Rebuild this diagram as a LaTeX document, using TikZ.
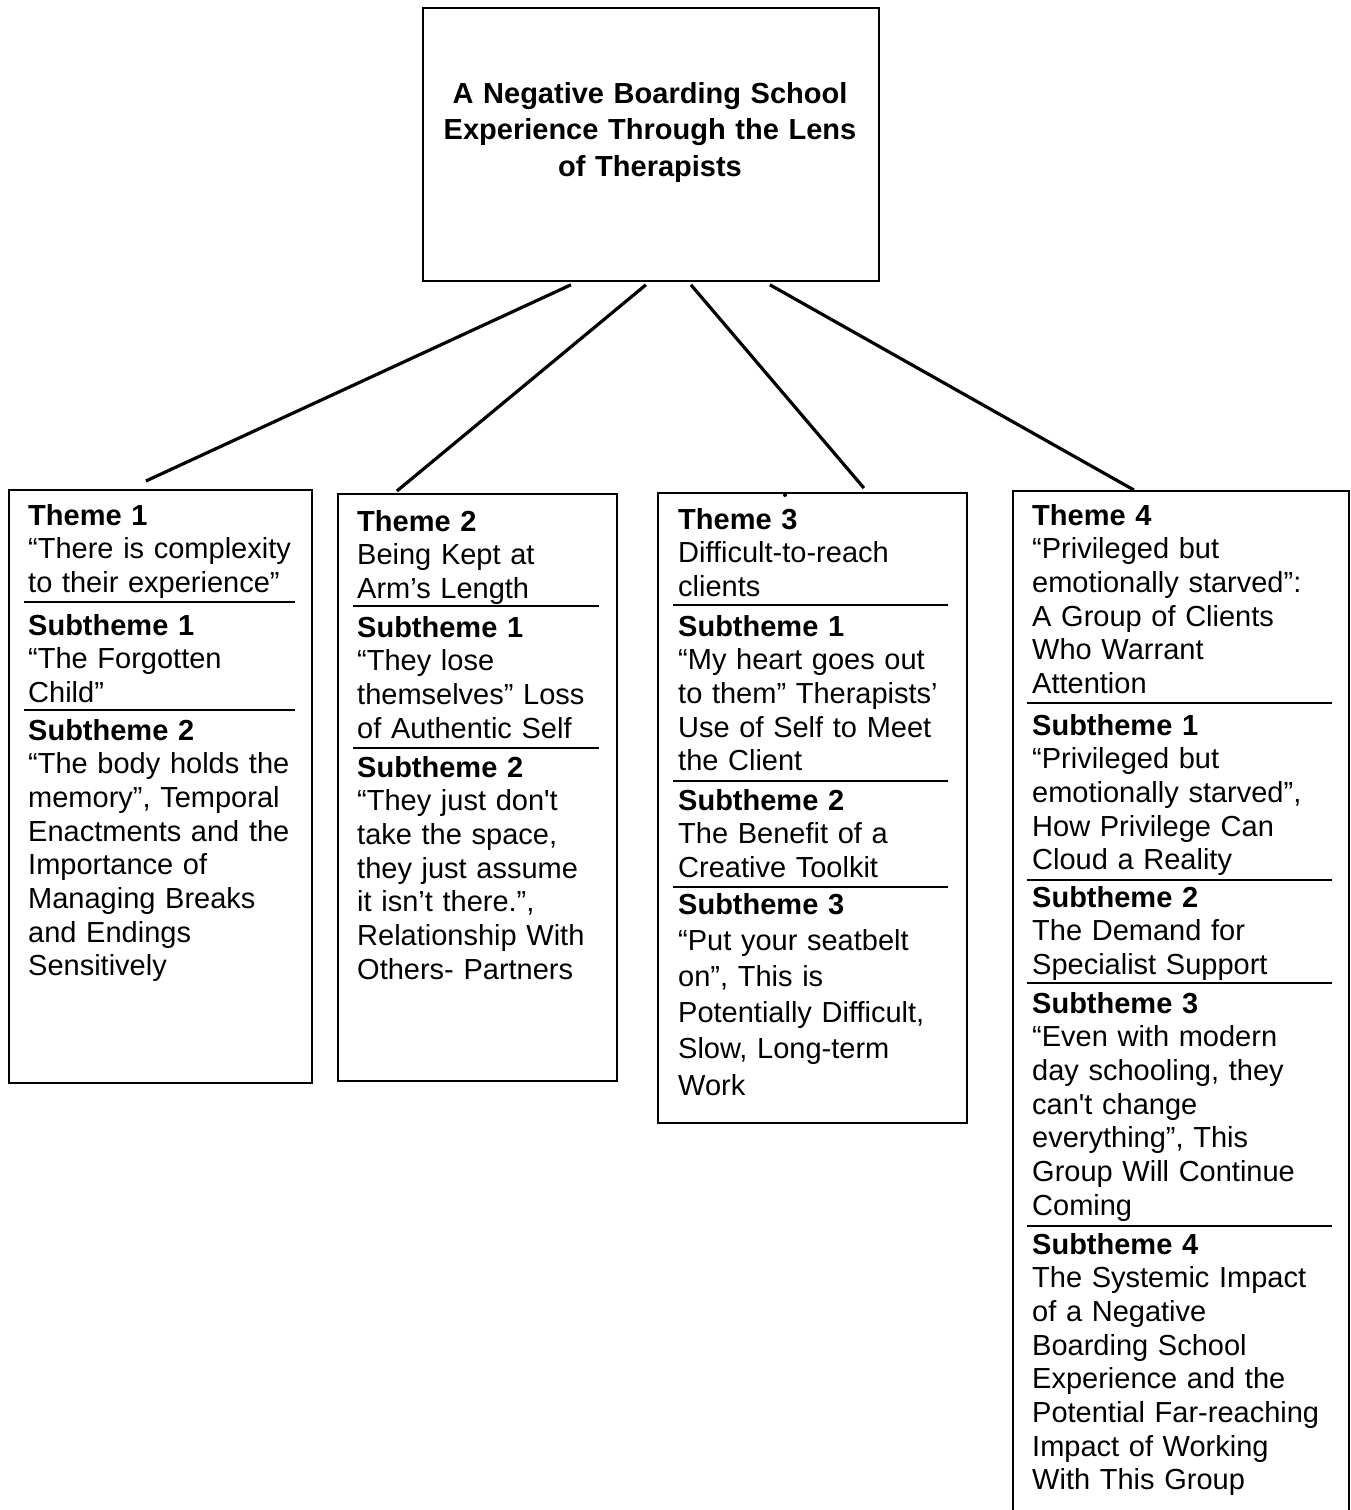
\documentclass[tikz,border=0pt]{standalone}
\usepackage{fontspec}
\newfontfamily\arialfont{Liberation Sans}
\usepackage{tikz}
\usetikzlibrary{calc}
\tikzset{box/.style={draw,line width=1.8pt,inner sep=0,anchor=north west},
  seg/.style={anchor=base west,inner sep=0,text width=340,align=left,font=\arialfont\fontsize{29}{33.7}\selectfont},
  sep/.style={line width=2.2pt},
  link/.style={line width=3.2pt}}

\begin{document}
\begin{tikzpicture}[x=1pt,y=-1pt]
  \useasboundingbox (0,0) rectangle (1351,1510);
  \node (00) [box, minimum width=456, minimum height=273] at (422,7) {};
  \node [anchor=base, inner sep=0, text width=440, align=center, font=\arialfont\bfseries\fontsize{29}{36.5}\selectfont] at (650,103)
    {A Negative Boarding School\\Experience Through the Lens\\of Therapists};
  \node (10) [box, minimum width=303, minimum height=593] at (8,489) {};
  \node (20) [box, minimum width=279, minimum height=587] at (337,493) {};
  \node (30) [box, minimum width=309, minimum height=630] at (657,492) {};
  \node (40) [box, minimum width=336, minimum height=1050] at (1012,490) {};
  \fill (785,495) circle (2pt);
  \draw [link] ($(00.south) + (-80,3)$) -- ($(10.north) + (-14.5,-8)$);
  \draw [link] ($(00.south) + (-5,3)$) -- ($(20.north) + (-80.5,-2)$);
  \draw [link] ($(00.south) + (40,3)$) -- ($(30.north) + (51.5,-4)$);
  \draw [link] ($(00.south) + (119,3)$) -- ($(40.north) + (-47,0)$);
  % theme 1
  \node (11) [seg] at (28,525) {\textbf{Theme 1}\\“There is complexity\\to their experience”};
  \draw [sep] (24,602) -- (295,602);
  \node (12) [seg] at (28,635) {\textbf{Subtheme 1}\\“The Forgotten\\Child”};
  \draw [sep] (24,710) -- (295,710);
  \node (13) [seg] at (28,740) {\textbf{Subtheme 2}\\“The body holds the\\memory”, Temporal\\Enactments and the\\Importance of\\Managing Breaks\\and Endings\\Sensitively};
  % theme 2
  \node (21) [seg] at (357,531) {\textbf{Theme 2}\\Being Kept at\\Arm’s Length};
  \draw [sep] (353,606) -- (599,606);
  \node (22) [seg] at (357,637) {\textbf{Subtheme 1}\\“They lose\\themselves” Loss\\of Authentic Self};
  \draw [sep] (353,748) -- (599,748);
  \node (23) [seg] at (357,777) {\textbf{Subtheme 2}\\“They just don't\\take the space,\\they just assume\\it isn’t there.”,\\Relationship With\\Others- Partners};
  % theme 3
  \node (31) [seg] at (678,529) {\textbf{Theme 3}\\Difficult-to-reach\\clients};
  \draw [sep] (673,605) -- (948,605);
  \node (32) [seg] at (678,636) {\textbf{Subtheme 1}\\“My heart goes out\\to them” Therapists’\\Use of Self to Meet\\the Client};
  \draw [sep] (673,781) -- (948,781);
  \node (33) [seg] at (678,810) {\textbf{Subtheme 2}\\The Benefit of a\\Creative Toolkit};
  \draw [sep] (673,887) -- (948,887);
  \node (34) [seg, font=\arialfont\fontsize{29}{36.2}\selectfont] at (678,914) {\textbf{Subtheme 3}\\“Put your seatbelt\\on”, This is\\Potentially Difficult,\\Slow, Long-term\\Work};
  % theme 4
  \node (41) [seg] at (1032,525) {\textbf{Theme 4}\\“Privileged but\\emotionally starved”:\\A Group of Clients\\Who Warrant\\Attention};
  \draw [sep] (1027,703) -- (1332,703);
  \node (42) [seg] at (1032,735) {\textbf{Subtheme 1}\\“Privileged but\\emotionally starved”,\\How Privilege Can\\Cloud a Reality};
  \draw [sep] (1027,880) -- (1332,880);
  \node (43) [seg] at (1032,907) {\textbf{Subtheme 2}\\The Demand for\\Specialist Support};
  \draw [sep] (1027,983) -- (1332,983);
  \node (44) [seg] at (1032,1013) {\textbf{Subtheme 3}\\“Even with modern\\day schooling, they\\can't change\\everything”, This\\Group Will Continue\\Coming};
  \draw [sep] (1027,1226) -- (1332,1226);
  \node (45) [seg] at (1032,1254) {\textbf{Subtheme 4}\\The Systemic Impact\\of a Negative\\Boarding School\\Experience and the\\Potential Far-reaching\\Impact of Working\\With This Group};
\end{tikzpicture}
\end{document}
